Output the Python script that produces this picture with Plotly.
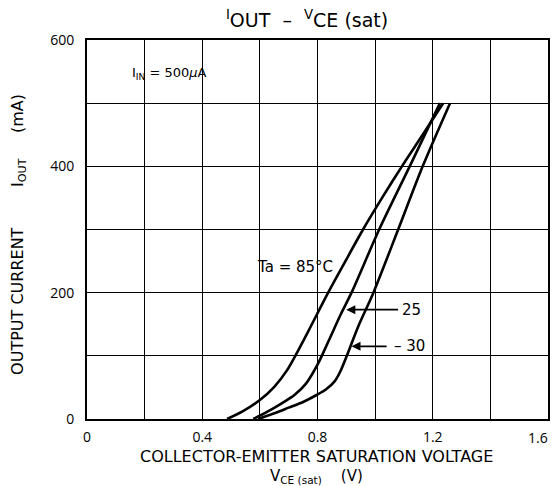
import plotly.graph_objects as go

# Data (VCE(sat) in V, IOUT in mA)
x_85 = [0.486, 0.54, 0.60, 0.65, 0.694, 0.73, 0.767, 0.837, 0.897, 0.958, 1.024, 1.093, 1.165, 1.236]
y_85 = [0, 12, 30, 51, 77, 106, 138, 200, 250, 300, 350, 400, 450, 500]

x_25 = [0.577, 0.62, 0.68, 0.72, 0.76, 0.80, 0.84, 0.88, 0.918, 1.014, 1.12, 1.225]
y_25 = [0, 10, 26, 38, 56, 86, 125, 165, 200, 300, 400, 500]

x_m30 = [0.594, 0.65, 0.70, 0.75, 0.797, 0.83, 0.86, 0.88, 0.90, 0.94, 0.994, 1.08, 1.165, 1.26]
y_m30 = [0, 9, 18, 27, 38, 47, 60, 76, 98, 145, 200, 300, 400, 500]

x_ticks = [0, 0.4, 0.8, 1.2, 1.6]
x_ticktext = ["0", "0.4", "0.8", "1.2", ""]
y_ticks = [0, 200, 400, 600]

TFONT = "Open Sans"
LFONT = "DejaVu Sans"
fig = go.Figure()
for xs, ys in [(x_85, y_85), (x_25, y_25), (x_m30, y_m30)]:
    fig.add_trace(go.Scatter(x=xs, y=ys, mode="lines",
                             line=dict(color="black", width=2.6, shape="spline", smoothing=0.8),
                             showlegend=False, hoverinfo="skip"))

fig.update_layout(
    width=559, height=486,
    margin=dict(l=79, r=19, t=32, b=75, autoexpand=False),
    paper_bgcolor="white", plot_bgcolor="white",
    font=dict(family=LFONT, color="black", size=15),
    title=dict(text="<sup>I</sup>OUT  –  <sup>V</sup>CE (sat)", x=0.535, xanchor="center",
               y=0.975, yanchor="middle", font=dict(size=19, family=LFONT)),
)
fig.update_xaxes(range=[0, 1.6], tickvals=x_ticks, ticktext=x_ticktext,
                 showgrid=True, gridcolor="black", gridwidth=1,
                 minor=dict(dtick=0.2, tick0=0, showgrid=True, gridcolor="black", gridwidth=1),
                 showline=True, linecolor="black", linewidth=2, mirror=True, automargin=False,
                 ticks="", zeroline=False, ticklabelstandoff=4,
                 tickfont=dict(size=14, family=TFONT))
fig.update_yaxes(range=[0, 600], tickvals=y_ticks, showgrid=True, gridcolor="black", gridwidth=1,
                 minor=dict(dtick=100, tick0=0, showgrid=True, gridcolor="black", gridwidth=1),
                 showline=True, linecolor="black", linewidth=2, mirror=True, automargin=False,
                 ticks="", zeroline=False, ticklabelstandoff=8,
                 tickfont=dict(size=14, family=TFONT))

ann = [
    # last x tick label, kept inside the visible page
    dict(x=1.6, y=0, text="1.6", xanchor="right", yanchor="top", xshift=2, yshift=-7,
         showarrow=False, font=dict(size=14, family=TFONT)),
    dict(x=0.149, y=547, text="I<sub>IN</sub> = 500<i>μ</i>A", xanchor="left", yanchor="middle",
         showarrow=False, font=dict(size=13)),
    dict(x=0.583, y=240, text="Ta = 85°C", xanchor="left", yanchor="middle",
         showarrow=False, font=dict(size=15)),
    dict(x=1.087, y=173, text="25", xanchor="left", yanchor="middle",
         showarrow=False, font=dict(size=15)),
    dict(x=1.06, y=115, text="– 30", xanchor="left", yanchor="middle",
         showarrow=False, font=dict(size=15)),
    dict(x=0.90, y=173, ax=1.085, ay=173, axref="x", ayref="y", text="", showarrow=True,
         arrowhead=2, arrowsize=1, arrowwidth=1.8, arrowcolor="black"),
    dict(x=0.918, y=115, ax=1.045, ay=115, axref="x", ayref="y", text="", showarrow=True,
         arrowhead=2, arrowsize=1, arrowwidth=1.8, arrowcolor="black"),
    dict(x=0.497, xref="paper", y=-0.098, yref="paper", text="COLLECTOR-EMITTER SATURATION VOLTAGE",
         showarrow=False, xanchor="center", yanchor="middle", font=dict(size=16)),
    dict(x=0.497, xref="paper", y=-0.152, yref="paper", text="V<sub>CE (sat)</sub>    (V)",
         showarrow=False, xanchor="center", yanchor="middle", font=dict(size=15)),
    dict(x=-0.15, xref="paper", y=0.488, yref="paper",
         text="OUTPUT CURRENT        I<sub>OUT</sub>     (mA)",
         showarrow=False, textangle=-90, xanchor="center", yanchor="middle", font=dict(size=16)),
]
fig.update_layout(annotations=ann)
fig.write_html("out.html")
